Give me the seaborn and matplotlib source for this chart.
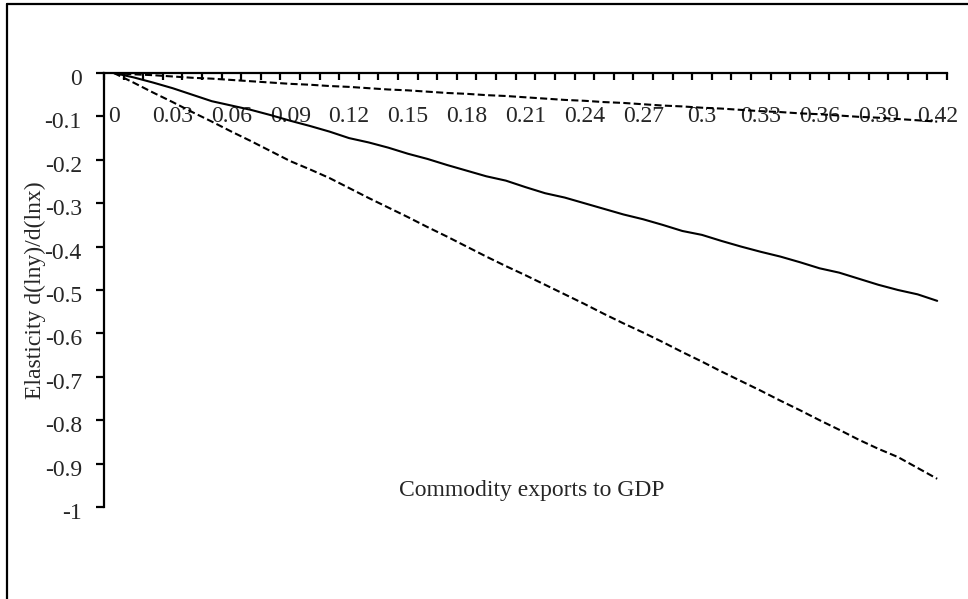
import numpy as np
import pandas as pd
import matplotlib
matplotlib.use("Agg")
import matplotlib.pyplot as plt
import matplotlib.transforms as mtransforms
import seaborn as sns

# Commodity exports to GDP, in steps of 0.01
export_share = [round(i * 0.01, 2) for i in range(43)]

# Elasticity estimate and its two bands
elasticity = [0, -0.010, -0.022, -0.035, -0.050, -0.065, -0.075, -0.085, -0.097, -0.110,
              -0.122, -0.135, -0.150, -0.160, -0.172, -0.186, -0.198, -0.212, -0.225, -0.238,
              -0.248, -0.263, -0.277, -0.287, -0.300, -0.313, -0.326, -0.337, -0.350, -0.364,
              -0.373, -0.387, -0.400, -0.412, -0.423, -0.436, -0.450, -0.460, -0.474, -0.488,
              -0.500, -0.510, -0.525]
lower_band = [0, -0.022, -0.045, -0.067, -0.090, -0.112, -0.135, -0.157, -0.180, -0.203,
              -0.222, -0.242, -0.265, -0.288, -0.310, -0.332, -0.355, -0.377, -0.400, -0.423,
              -0.445, -0.466, -0.488, -0.510, -0.532, -0.555, -0.577, -0.598, -0.620, -0.643,
              -0.665, -0.688, -0.710, -0.732, -0.755, -0.777, -0.800, -0.822, -0.845, -0.866,
              -0.885, -0.910, -0.935]
upper_band = [0, -0.003, -0.005, -0.008, -0.011, -0.013, -0.016, -0.019, -0.022, -0.025,
              -0.027, -0.030, -0.032, -0.035, -0.038, -0.040, -0.043, -0.046, -0.048, -0.051,
              -0.053, -0.056, -0.059, -0.062, -0.064, -0.067, -0.069, -0.072, -0.075, -0.077,
              -0.080, -0.082, -0.085, -0.088, -0.090, -0.093, -0.095, -0.098, -0.101, -0.103,
              -0.106, -0.109, -0.112]

y_ticks = [0, -0.1, -0.2, -0.3, -0.4, -0.5, -0.6, -0.7, -0.8, -0.9, -1]
y_tick_labels = ["0", "-0.1", "-0.2", "-0.3", "-0.4", "-0.5", "-0.6", "-0.7", "-0.8", "-0.9", "-1"]
x_label_every = 3

sns.set_style("white")
plt.rcParams["font.family"] = ["Liberation Serif", "DejaVu Serif"]
plt.rcParams["font.size"] = 17

n = len(export_share)
cat = np.arange(n)
df = pd.DataFrame({
    "cat": np.concatenate([cat, cat, cat]),
    "value": elasticity + lower_band + upper_band,
    "series": ["estimate"] * n + ["lower"] * n + ["upper"] * n,
})

fig = plt.figure(figsize=(9.68, 5.99), dpi=100)
ax = fig.add_axes([104 / 968, 1 - 507 / 599, 843 / 968, 434 / 599])

sns.lineplot(data=df, x="cat", y="value", style="series",
             dashes={"estimate": "", "lower": (3.4, 1.6), "upper": (3.4, 1.6)},
             color="black", linewidth=1.5, legend=False, ax=ax, sort=False)

ax.set_xlim(-0.5, n - 0.5)
ax.set_ylim(-1, 0)

# spines: value axis on the left, category axis along y = 0 at the top
for side in ("right", "bottom"):
    ax.spines[side].set_visible(False)
for side in ("left", "top"):
    ax.spines[side].set_color("black")
    ax.spines[side].set_linewidth(1.6)

# category boundaries carry the tick marks, centres carry the labels
ax.xaxis.set_ticks_position("top")
ax.set_xticks(np.arange(-0.5, n, 1.0), minor=True)
label_idx = cat[::x_label_every]
ax.set_xticks(label_idx)
ax.set_xticklabels([f"{export_share[i]:g}" for i in label_idx])
ax.tick_params(axis="x", which="minor", direction="in", length=5, width=1.6, color="black")
ax.tick_params(axis="x", which="major", length=0, pad=-39, labelsize=17)

ax.set_yticks(y_ticks)
ax.set_yticklabels(y_tick_labels)
ax.tick_params(axis="y", direction="out", length=6, width=1.6, color="black", pad=10,
               labelsize=17, left=True)
shift = mtransforms.ScaledTranslation(0, -4 / 100, fig.dpi_scale_trans)
for lab in ax.get_yticklabels():
    lab.set_transform(lab.get_transform() + shift)

ax.set_xlabel("Commodity exports to GDP", fontsize=17)
ax.xaxis.set_label_position("bottom")
ax.xaxis.set_label_coords(0.507, 0.062)
ax.set_ylabel("Elasticity d(lny)/d(lnx)", fontsize=17)
ax.yaxis.set_label_coords(-0.069, 0.5)

# frame lines along the left and top of the figure
fig.add_artist(plt.Line2D([7 / 968, 7 / 968], [0, 1 - 4 / 599], transform=fig.transFigure,
                          color="black", linewidth=1.6))
fig.add_artist(plt.Line2D([7 / 968, 1], [1 - 4 / 599, 1 - 4 / 599], transform=fig.transFigure,
                          color="black", linewidth=1.6))

fig.savefig("out.png", dpi=100, facecolor="white")
